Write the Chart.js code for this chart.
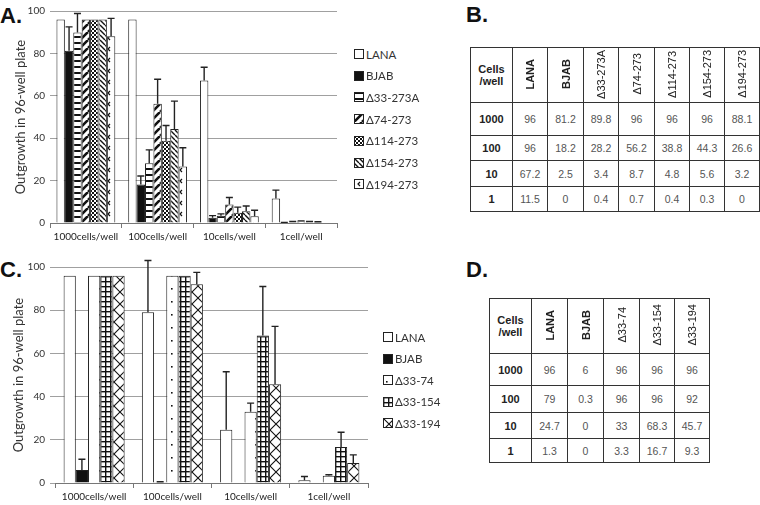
<!DOCTYPE html>
<html>
<head>
<meta charset="utf-8">
<script src="https://cdn.jsdelivr.net/npm/chart.js@4.4.0/dist/chart.umd.min.js"></script>
<style>
    body { margin: 0; width: 760px; height: 505px; background: #fff; position: relative; overflow: hidden; font-family: "Liberation Sans", Arial, sans-serif; }
    .panel { position: absolute; font: bold 22px "Liberation Sans", Arial, sans-serif; line-height: 22px; color: #111; }
    canvas.chart { position: absolute; left: 0; }
    .lg { position: absolute; height: 12px; display: flex; align-items: center; font: 11.5px Lato, sans-serif; color: #333; white-space: nowrap; }
    .lg canvas { margin-right: 2px; }
    table { position: absolute; border-collapse: collapse; table-layout: fixed; color: #555; font-family: "Liberation Sans", Arial, sans-serif; font-size: 10.5px; }
    td, th { border: 1.5px solid #333; text-align: center; vertical-align: middle; padding: 0; }
    th { font-weight: bold; font-size: 11px; color: #222; }
    th.rot span { display: inline-block; writing-mode: vertical-rl; transform: rotate(180deg); }
    th.rot.thin { font-weight: normal; }
    td.lab { font-weight: bold; color: #222; font-size: 11px; }
</style>
</head>
<body>
<div class="panel" style="left:0; top:5px;">A.</div>
<div class="panel" style="left:466px; top:4px;">B.</div>
<div class="panel" style="left:0; top:259px;">C.</div>
<div class="panel" style="left:466px; top:259px;">D.</div>
<canvas id="chartA" class="chart" width="342" height="250" style="top:0"></canvas>
<canvas id="chartC" class="chart" width="372" height="250" style="top:256px"></canvas>
<script>
// Categories and row labels
const categories = ['1000cells/well', '100cells/well', '10cells/well', '1cell/well'];
const rowLabels = ['1000', '100', '10', '1'];

// Panel A / B series
const seriesA = ['LANA', 'BJAB', 'Δ33-273A', 'Δ74-273', 'Δ114-273', 'Δ154-273', 'Δ194-273'];
const lanaA = [96, 96, 67.2, 11.5];
const bjabA = [81.2, 18.2, 2.5, 0];
const d33_273A = [89.8, 28.2, 3.4, 0.4];
const d74_273 = [96, 56.2, 8.7, 0.7];
const d114_273 = [96, 38.8, 4.8, 0.4];
const d154_273 = [96, 44.3, 5.6, 0.3];
const d194_273 = [88.1, 26.6, 3.2, 0];

// error bar heights (upper only)
const lanaAErr = [0, 0, 6.3, 4];
const bjabAErr = [11.3, 4, 1, 0.3];
const d33_273AErr = [9, 6.3, 0.9, 0.3];
const d74_273Err = [0, 11.6, 3.3, 0.3];
const d114_273Err = [0, 7.2, 2.7, 0.3];
const d154_273Err = [0, 13.2, 2.4, 0.3];
const d194_273Err = [8.4, 8.9, 2.8, 0];

// Panel C / D series
const seriesC = ['LANA', 'BJAB', 'Δ33-74', 'Δ33-154', 'Δ33-194'];
const lanaC = [96, 79, 24.7, 1.3];
const bjabC = [6, 0.3, 0, 0];
const d33_74 = [96, 96, 33, 3.3];
const d33_154 = [96, 96, 68.3, 16.7];
const d33_194 = [96, 92, 45.7, 9.3];

const lanaCErr = [0, 24, 26.8, 1.7];
const bjabCErr = [5, 0.3, 0, 0];
const d33_74Err = [0, 0, 4, 0.5];
const d33_154Err = [0, 0, 22.7, 6.8];
const d33_194Err = [0, 5.5, 26.8, 3.7];

const yTicks = [0, 20, 40, 60, 80, 100];

// patterns for the black & white fills
function pattern(w, h, draw) {
    const c = document.createElement('canvas');
    c.width = w;
    c.height = h;
    const g = c.getContext('2d');
    g.fillStyle = '#fff';
    g.fillRect(0, 0, w, h);
    g.fillStyle = '#111';
    g.strokeStyle = '#111';
    draw(g, w, h);
    return g.createPattern(c, 'repeat');
}

function diag(g, w, h, lw, up) {
    g.lineWidth = lw;
    g.beginPath();
    for (let k = -1; k <= 1; k++) {
        if (up) {
            g.moveTo(k * w, h);
            g.lineTo(k * w + w, 0);
        } else {
            g.moveTo(k * w, 0);
            g.lineTo(k * w + w, h);
        }
    }
    g.stroke();
}

const white = '#fff';
const black = '#111';
const hStripes = pattern(6, 6, g => g.fillRect(0, 0, 6, 2));
const thickUp = pattern(8, 8, (g, w, h) => diag(g, w, h, 2.6, true));
const checker = pattern(4, 4, g => { g.fillRect(0, 0, 2, 2); g.fillRect(2, 2, 2, 2); });
const thinDown = pattern(5, 5, (g, w, h) => diag(g, w, h, 1.4, false));
const ticks194 = pattern(8, 11, g => {
    g.lineWidth = 1.2;
    g.beginPath();
    g.moveTo(6, 3); g.lineTo(4, 5); g.lineTo(6, 7);
    g.stroke();
});
const sparseDots = pattern(12, 13, g => g.fillRect(3, 6, 1.6, 1.6));
const grid = pattern(5, 5, g => { g.fillRect(0, 0, 5, 1.4); g.fillRect(0, 0, 1.4, 5); });
const cross = pattern(12, 12, (g, w, h) => {
    g.lineWidth = 1.1;
    g.beginPath();
    g.moveTo(0, 0); g.lineTo(w, h);
    g.moveTo(w, 0); g.lineTo(0, h);
    g.stroke();
});

const fillsA = [white, black, hStripes, thickUp, checker, thinDown, ticks194];
const valuesA = [lanaA, bjabA, d33_273A, d74_273, d114_273, d154_273, d194_273];
const errorsA = [lanaAErr, bjabAErr, d33_273AErr, d74_273Err, d114_273Err, d154_273Err, d194_273Err];

const fillsC = [white, black, sparseDots, grid, cross];
const valuesC = [lanaC, bjabC, d33_74, d33_154, d33_194];
const errorsC = [lanaCErr, bjabCErr, d33_74Err, d33_154Err, d33_194Err];

// upper error bars
const errorBars = {
    id: 'errorBars',
    afterDatasetsDraw(chart, args, opts) {
        const ctx = chart.ctx;
        const y = chart.scales.y;
        ctx.save();
        ctx.strokeStyle = '#222';
        ctx.lineWidth = 1.4;
        chart.data.datasets.forEach((ds, i) => {
            const meta = chart.getDatasetMeta(i);
            meta.data.forEach((bar, j) => {
                const e = opts.errors[i][j];
                if (!e) return;
                const top = y.getPixelForValue(ds.data[j] + e);
                ctx.beginPath();
                ctx.moveTo(bar.x, bar.y);
                ctx.lineTo(bar.x, top);
                ctx.moveTo(bar.x - 3.5, top);
                ctx.lineTo(bar.x + 3.5, top);
                ctx.stroke();
            });
        });
        ctx.restore();
    }
};

function makeChart(id, names, values, fills, errors, opt) {
    return new Chart(document.getElementById(id), {
        type: 'bar',
        data: {
            labels: categories,
            datasets: names.map((name, i) => ({
                label: name,
                data: values[i],
                backgroundColor: fills[i],
                borderColor: '#222',
                borderWidth: 1
            }))
        },
        options: {
            responsive: false,
            animation: false,
            layout: { padding: opt.padding },
            datasets: { bar: { categoryPercentage: opt.catPct, barPercentage: 1 } },
            scales: {
                x: {
                    grid: { drawOnChartArea: false, tickLength: 5, color: '#777' },
                    border: { color: '#777' },
                    ticks: { color: '#222', padding: 3, font: { family: 'Lato', size: 10 } }
                },
                y: {
                    min: 0,
                    max: 100,
                    afterFit: s => { s.width = opt.axisWidth; },
                    afterBuildTicks: s => { s.ticks = yTicks.map(v => ({ value: v })); },
                    grid: { color: '#a0a0a0', drawTicks: opt.yTickLen > 0, tickLength: opt.yTickLen },
                    border: { display: false },
                    ticks: { color: '#333', padding: 5, font: { family: 'Lato', size: 10 } },
                    title: {
                        display: true,
                        text: 'Outgrowth in 96-well plate',
                        color: '#333',
                        padding: { top: 0, bottom: 4 },
                        font: { family: 'Lato', size: 13 }
                    }
                }
            },
            plugins: {
                legend: { display: false },
                tooltip: { enabled: false },
                errorBars: { errors: errors }
            }
        },
        plugins: [errorBars]
    });
}

makeChart('chartA', seriesA, valuesA, fillsA, errorsA, {
    padding: { top: 4, left: 13, right: 5, bottom: 4 },
    catPct: 0.82, axisWidth: 37, yTickLen: 0
});
makeChart('chartC', seriesC, valuesC, fillsC, errorsC, {
    padding: { top: 10, left: 11, right: 4, bottom: 0 },
    catPct: 0.78, axisWidth: 44, yTickLen: 5
});

// legends
function buildLegend(names, fills, left, top, step) {
    names.forEach((name, i) => {
        const row = document.createElement('div');
        row.className = 'lg';
        row.style.left = left + 'px';
        row.style.top = (top + i * step - 6) + 'px';
        const sw = document.createElement('canvas');
        sw.width = 10;
        sw.height = 10;
        const g = sw.getContext('2d');
        g.fillStyle = fills[i];
        g.fillRect(0, 0, 10, 10);
        g.strokeStyle = '#222';
        g.lineWidth = 1;
        g.strokeRect(0.5, 0.5, 9, 9);
        row.appendChild(sw);
        row.appendChild(document.createTextNode(name));
        document.body.appendChild(row);
    });
}
buildLegend(seriesA, fillsA, 354, 54, 21.7);
buildLegend(seriesC, fillsC, 383, 337, 21.5);

// tables built from the same arrays
function buildTable(names, values, left, top, colWidths, rowHeights) {
    const t = document.createElement('table');
    t.style.left = left + 'px';
    t.style.top = top + 'px';
    t.style.width = colWidths.reduce((a, b) => a + b, 0) + 'px';
    const cg = document.createElement('colgroup');
    colWidths.forEach(w => {
        const c = document.createElement('col');
        c.style.width = w + 'px';
        cg.appendChild(c);
    });
    t.appendChild(cg);
    const hr = document.createElement('tr');
    hr.style.height = rowHeights[0] + 'px';
    const h0 = document.createElement('th');
    h0.innerHTML = 'Cells<br>/well';
    hr.appendChild(h0);
    names.forEach(n => {
        const th = document.createElement('th');
        th.className = n.startsWith('Δ') ? 'rot thin' : 'rot';
        const sp = document.createElement('span');
        sp.textContent = n;
        th.appendChild(sp);
        hr.appendChild(th);
    });
    t.appendChild(hr);
    rowLabels.forEach((r, j) => {
        const tr = document.createElement('tr');
        tr.style.height = rowHeights[j + 1] + 'px';
        const td0 = document.createElement('td');
        td0.className = 'lab';
        td0.textContent = r;
        tr.appendChild(td0);
        values.forEach(v => {
            const td = document.createElement('td');
            td.textContent = String(v[j]);
            tr.appendChild(td);
        });
        t.appendChild(tr);
    });
    document.body.appendChild(t);
}
buildTable(seriesA, valuesA, 470, 47, [42, 35, 36, 35, 36, 35, 35, 35], [55, 33, 25, 26, 25]);
buildTable(seriesC, valuesC, 489, 298, [42, 36, 36, 36, 35, 35], [55, 32, 27, 26, 24]);
</script>
</body>
</html>
